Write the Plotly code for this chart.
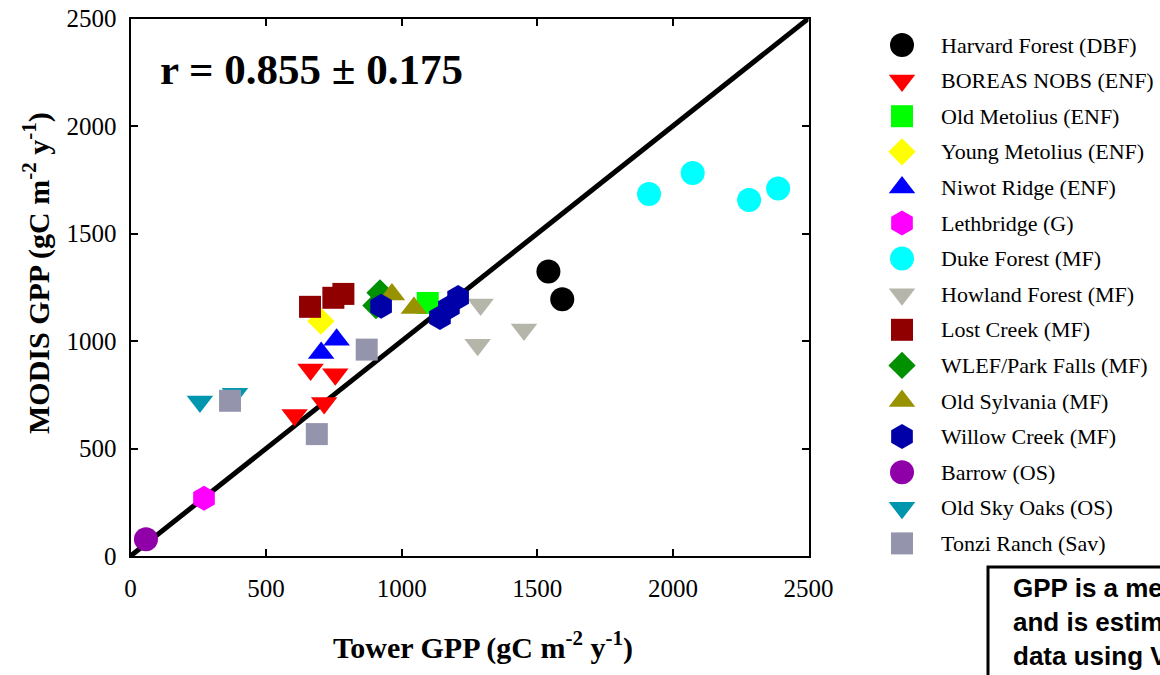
import plotly.graph_objects as go

# ---------------- data ----------------
site_names = [
    "Harvard Forest (DBF)", "BOREAS NOBS (ENF)", "Old Metolius (ENF)",
    "Young Metolius (ENF)", "Niwot Ridge (ENF)", "Lethbridge (G)",
    "Duke Forest (MF)", "Howland Forest (MF)", "Lost Creek (MF)",
    "WLEF/Park Falls (MF)", "Old Sylvania (MF)", "Willow Creek (MF)",
    "Barrow (OS)", "Old Sky Oaks (OS)", "Tonzi Ranch (Sav)",
]

harvard_tower = [1541, 1592]
harvard_modis = [1323, 1194]
boreas_tower = [664, 755, 714, 605]
boreas_modis = [868, 845, 712, 656]
old_metolius_tower = [1096]
old_metolius_modis = [1177]
young_metolius_tower = [702]
young_metolius_modis = [1092]
niwot_tower = [760, 703]
niwot_modis = [1006, 944]
lethbridge_tower = [271]
lethbridge_modis = [269]
duke_tower = [1912, 2073, 2281, 2388]
duke_modis = [1684, 1781, 1656, 1709]
howland_tower = [1291, 1280, 1451]
howland_modis = [1170, 982, 1054]
lost_creek_tower = [662, 748, 785]
lost_creek_modis = [1159, 1201, 1219]
wlef_tower = [920, 905]
wlef_modis = [1224, 1165]
old_sylvania_tower = [964, 1045]
old_sylvania_modis = [1216, 1154]
willow_tower = [924, 1141, 1174, 1208]
willow_modis = [1162, 1109, 1156, 1202]
barrow_tower = [57]
barrow_modis = [78]
sky_oaks_tower = [256, 385]
sky_oaks_modis = [719, 755]
tonzi_tower = [367, 871, 687]
tonzi_modis = [722, 960, 567]

tower_values = [harvard_tower, boreas_tower, old_metolius_tower, young_metolius_tower,
                niwot_tower, lethbridge_tower, duke_tower, howland_tower, lost_creek_tower,
                wlef_tower, old_sylvania_tower, willow_tower, barrow_tower, sky_oaks_tower,
                tonzi_tower]
modis_values = [harvard_modis, boreas_modis, old_metolius_modis, young_metolius_modis,
                niwot_modis, lethbridge_modis, duke_modis, howland_modis, lost_creek_modis,
                wlef_modis, old_sylvania_modis, willow_modis, barrow_modis, sky_oaks_modis,
                tonzi_modis]

one_to_one = [0, 2500]
tick_values = [0, 500, 1000, 1500, 2000, 2500]
tick_labels = ["0", "500", "1000", "1500", "2000", "2500"]

x_title = "<b>Tower GPP (gC m<sup>-2</sup> y<sup>-1</sup>)</b>"
y_title = "<b>MODIS GPP (gC m<sup>-2</sup> y<sup>-1</sup>)</b>"
r_text = "r = 0.855 ± 0.175"
note_lines = ["GPP is a me", "and is estim", "data using V"]

# ---------------- styles ----------------
symbols = ["circle", "triangle-down", "square", "diamond", "triangle-up", "hexagon",
           "circle", "triangle-down", "square", "diamond", "triangle-up", "hexagon",
           "circle", "triangle-down", "square"]
colors = ["#000000", "#ff0000", "#00ff00", "#ffff00", "#0000ff", "#ff00ff",
          "#00ffff", "#b5b5aa", "#900000", "#009000", "#999200", "#0000a8",
          "#9000a8", "#0096ae", "#9494ac"]
sizes_by_symbol = {"circle": 24, "triangle-down": 23, "square": 22, "diamond": 21,
                   "triangle-up": 23, "hexagon": 25}

W, H = 1160, 675
L, R, T, B = 130.5, 808.5, 18.5, 556.0
SERIF = "Liberation Serif"

fig = go.Figure()

# 1:1 line
fig.add_trace(go.Scatter(x=one_to_one, y=one_to_one, mode="lines",
                         line=dict(color="black", width=5), showlegend=False,
                         hoverinfo="skip", cliponaxis=False))

for name, xs, ys, sym, col in zip(site_names, tower_values, modis_values, symbols, colors):
    fig.add_trace(go.Scatter(x=xs, y=ys, mode="markers", name=name,
                             marker=dict(symbol=sym, color=col, size=sizes_by_symbol[sym],
                                         line=dict(width=0)),
                             showlegend=False, cliponaxis=False))

# custom legend drawn on an overlay axis (row index -> vertical position)
for i, (name, sym, col) in enumerate(zip(site_names, symbols, colors)):
    fig.add_trace(go.Scatter(x=[22], y=[i], mode="markers", xaxis="x2", yaxis="y2",
                             marker=dict(symbol=sym, color=col, size=sizes_by_symbol[sym],
                                         line=dict(width=0)),
                             showlegend=False, hoverinfo="skip", cliponaxis=False))
    fig.add_annotation(x=59, y=i, xref="x2", yref="y2", text=name, showarrow=False,
                       xanchor="left", yanchor="middle",
                       font=dict(family=SERIF, size=22, color="black"))

row_h = 35.6
first_row = 45.0
axis_common = dict(showgrid=False, zeroline=False, showline=True, linecolor="black",
                   linewidth=2, mirror="ticks", ticks="inside", ticklen=7, tickwidth=2,
                   tickcolor="black", tickvals=tick_values, ticktext=tick_labels,
                   range=[0, 2500], automargin=False)

fig.update_layout(
    width=W, height=H,
    margin=dict(l=0, r=0, t=0, b=0, autoexpand=False),
    paper_bgcolor="white", plot_bgcolor="white",
    showlegend=False,
    xaxis=dict(**axis_common, domain=[L / W, R / W], anchor="y",
               tickfont=dict(family=SERIF, size=25, color="black"),
               ticklabelstandoff=9),
    yaxis=dict(**axis_common, domain=[(H - B) / H, (H - T) / H], anchor="x",
               tickfont=dict(family=SERIF, size=25, color="black"),
               ticklabelstandoff=7),
    xaxis2=dict(domain=[880 / W, 1.0], range=[0, 280], visible=False, anchor="y2",
                automargin=False),
    yaxis2=dict(domain=[0, 1], range=[(H - first_row) / row_h, -first_row / row_h],
                visible=False, anchor="x2", automargin=False),
)

# axis titles (placed as in the reference, slightly off-centre)
fig.add_annotation(x=483 / W, y=1 - 645 / H, xref="paper", yref="paper", text=x_title,
                   showarrow=False, xanchor="center", yanchor="middle",
                   font=dict(family=SERIF, size=30, color="black"))
fig.add_annotation(x=37 / W, y=1 - 273 / H, xref="paper", yref="paper", text=y_title,
                   showarrow=False, xanchor="center", yanchor="middle", textangle=-90,
                   font=dict(family=SERIF, size=30, color="black"))

# correlation text
fig.add_annotation(x=158 / W, y=1 - 69 / H, xref="paper", yref="paper", text="<b>" + r_text + "</b>",
                   showarrow=False, xanchor="left", yanchor="middle",
                   font=dict(family=SERIF, size=43, color="black"))

# note box (extends beyond the page)
fig.add_shape(type="rect", xref="paper", yref="paper",
              x0=988 / W, x1=1.2, y0=-0.2, y1=1 - 567 / H,
              line=dict(color="black", width=3), fillcolor="rgba(0,0,0,0)")
for k, line in enumerate(note_lines):
    fig.add_annotation(x=1011 / W, y=1 - (588 + 34 * k) / H, xref="paper", yref="paper",
                       text="<b>" + line + "</b>", showarrow=False,
                       xanchor="left", yanchor="middle",
                       font=dict(family="Liberation Sans", size=26, color="black"))

fig.write_html("out.html", config={"displayModeBar": False},
               post_script="document.body.style.margin='0px';")
